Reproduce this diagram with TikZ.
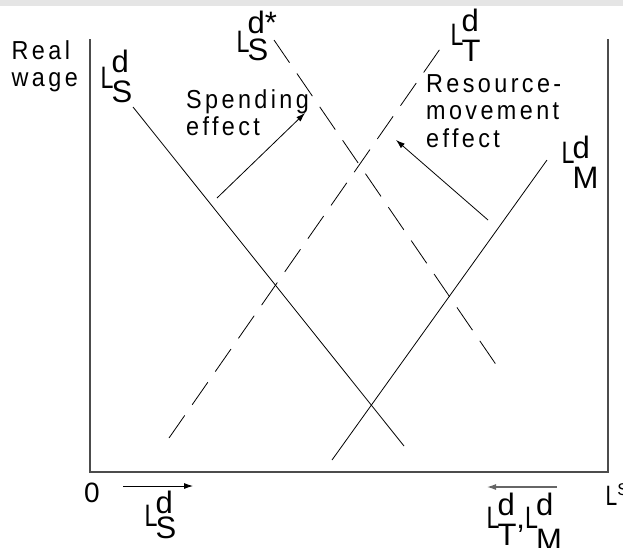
\documentclass[tikz,border=0pt]{standalone}
\usepackage{fontspec}
\setmainfont{Liberation Sans}
\newfontfamily\spacedfont[LetterSpace=14.5]{Liberation Sans}
\usepackage{graphicx}
\usetikzlibrary{arrows.meta}
\newcommand{\Lsd}[4]{\scalebox{0.75}[1]{L}\kern-2pt\rlap{\raisebox{#3}{#1}}\raisebox{-#4}{#2}}
\newcommand{\lines}[1]{\scalebox{0.9}[1]{\begin{tabular}[t]{@{}l@{}}#1\end{tabular}}}
\tikzset{
  axis/.style={line width=1.3pt, draw=black!70},
  curve/.style={line width=0.8pt, draw=black},
  dcurve/.style={curve, dash pattern=on 27.5pt off 13pt},
  effarrow/.style={line width=0.8pt, -{Latex[length=9pt,width=6pt]}},
  lab/.style={anchor=base west, inner sep=0pt, font=\fontsize{31}{31}\selectfont},
  txt/.style={anchor=base west, inner sep=0pt, font=\spacedfont\fontsize{26}{27.5}\selectfont},
}
\begin{document}
\begin{tikzpicture}[x=1pt,y=-1pt]
\useasboundingbox (0,0) rectangle (623,547);
\fill[black!10] (0,0) rectangle (623,6);
% axes
\coordinate (tl) at (90,39);
\coordinate (bl) at (90,472);
\coordinate (br) at (608,472);
\coordinate (tr) at (608,39);
\draw[axis] (tl) -- (bl) -- (br) -- (tr);
% curves
\coordinate (ls1) at (133,107);
\coordinate (ls2) at (404,446);
\coordinate (lss1) at (274,40);
\coordinate (lss2) at (497,366);
\coordinate (lt1) at (169,438);
\coordinate (lt2) at (440,49);
\coordinate (lm1) at (332,460);
\coordinate (lm2) at (547,160);
\draw[curve] (ls1) -- (ls2);
\draw[curve] (lm1) -- (lm2);
\draw[dcurve] (lss1) -- (lss2);
\draw[dcurve] (lt1) -- (lt2);
% effect arrows
\coordinate (sp1) at (217,198);
\coordinate (sp2) at (305,113);
\coordinate (rm1) at (488,220);
\coordinate (rm2) at (396,140);
\draw[effarrow] (sp1) -- (sp2);
\draw[effarrow] (rm1) -- (rm2);
% bottom arrows
\coordinate (ba1) at (123,486);
\coordinate (ba2) at (193,486);
\coordinate (bb1) at (557,487);
\coordinate (bb2) at (487,487);
\draw[effarrow] (ba1) -- (ba2);
\draw[effarrow, draw=black!60, line width=1.2pt] (bb1) -- (bb2);
% texts
\node[txt] (realwage) at (11.5,59) {\lines{Real\\wage}};
\node[txt] (spend) at (186,108) {\lines{Spending\\effect}};
\node[txt] (resmov) at (426,92) {\lines{Resource-\\movement\\effect}};
% curve labels
\node[lab] (lsl) at (100.4,88) {\Lsd{d}{S}{16pt}{14pt}};
\node[lab] (lssl) at (236.4,52) {\Lsd{d*}{S}{19pt}{8pt}};
\node[lab] (ltl) at (450.4,45) {\Lsd{d}{T}{14pt}{16pt}};
\node[lab] (lml) at (561.4,163) {\Lsd{d}{M}{5pt}{25pt}};
\node[lab] (lsb) at (144.4,526) {\Lsd{d}{S}{13pt}{12pt}};
\node[lab] (ltmb) at (486.4,528) {\Lsd{d}{T}{13pt}{17pt},\Lsd{d}{M}{13pt}{22pt}};
\node[lab, font=\fontsize{28}{28}\selectfont] (lsup) at (605.5,505) {\scalebox{0.75}[1]{L}\raisebox{10pt}{\fontsize{17}{17}\selectfont S}};
\node[inner sep=0pt, font=\fontsize{28}{28}\selectfont] (zero) at (92,493) {0};
\end{tikzpicture}
\end{document}
